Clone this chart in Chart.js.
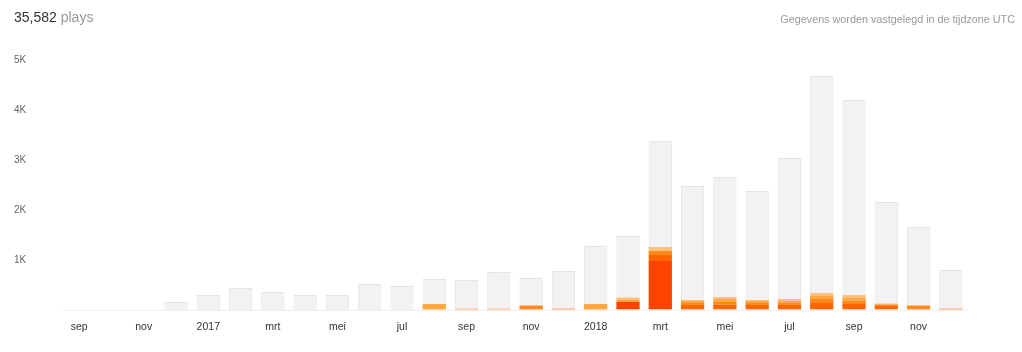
<!DOCTYPE html>
<html>
<head>
<meta charset="utf-8">
<script src="https://cdn.jsdelivr.net/npm/chart.js@4/dist/chart.umd.min.js"></script>
<style>
  html, body { margin: 0; padding: 0; background: #fff; }
  body { width: 1022px; height: 352px; position: relative; overflow: hidden; font-family: "Liberation Sans", Arial, sans-serif; }
  #chart { position: absolute; left: 0; top: 0; }
  .total { position: absolute; left: 14px; top: 9px; font-size: 14px; color: #333; }
  .total span { color: #999; }
  .tz { position: absolute; right: 7px; top: 13px; font-size: 10.8px; color: #999; }
</style>
</head>
<body>
<canvas id="chart" width="1022" height="352"></canvas>
<div class="total">35,582 <span>plays</span></div>
<div class="tz">Gegevens worden vastgelegd in de tijdzone UTC</div>
<script>
// maanden sep 2016 .. dec 2018
const months = [
  '2016-09', '2016-10', '2016-11', '2016-12',
  '2017-01', '2017-02', '2017-03', '2017-04', '2017-05', '2017-06',
  '2017-07', '2017-08', '2017-09', '2017-10', '2017-11', '2017-12',
  '2018-01', '2018-02', '2018-03', '2018-04', '2018-05', '2018-06',
  '2018-07', '2018-08', '2018-09', '2018-10', '2018-11', '2018-12'
]
const monthLabels = [
  'sep', '', 'nov', '',
  '2017', '', 'mrt', '', 'mei', '',
  'jul', '', 'sep', '', 'nov', '',
  '2018', '', 'mrt', '', 'mei', '',
  'jul', '', 'sep', '', 'nov', ''
]
const yTickLabels = ['', '1K', '2K', '3K', '4K', '5K']

// totaal aantal plays per maand (grijze balk)
const totalPlays = [0, 0, 0, 160, 300, 440, 360, 300, 300, 520, 480, 620, 600, 760,
  640, 780, 1280, 1480, 3380, 2480, 2660, 2380, 3040, 4680, 4200, 2160, 1660, 800]

// gekleurde lagen, van onder naar boven
const palePlays = [0, 0, 0, 0, 0, 0, 0, 0, 0, 0, 0, 20, 30, 30,
  20, 40, 20, 20, 20, 20, 20, 20, 20, 20, 20, 20, 20, 40]
const redPlays = [0, 0, 0, 0, 0, 0, 0, 0, 0, 0, 0, 0, 0, 0,
  0, 0, 0, 140, 960, 0, 0, 0, 0, 0, 0, 0, 0, 0]
const darkPlays = [0, 0, 0, 0, 0, 0, 0, 0, 0, 0, 0, 0, 0, 0,
  0, 0, 0, 0, 120, 80, 90, 80, 80, 120, 100, 60, 0, 0]
const midPlays = [0, 0, 0, 0, 0, 0, 0, 0, 0, 0, 0, 0, 0, 0,
  70, 0, 0, 0, 80, 40, 60, 40, 50, 80, 70, 30, 60, 0]
const lightPlays = [0, 0, 0, 0, 0, 0, 0, 0, 0, 0, 0, 100, 0, 0,
  0, 0, 100, 50, 0, 40, 50, 40, 40, 60, 60, 0, 0, 0]
const lighterPlays = [0, 0, 0, 0, 0, 0, 0, 0, 0, 0, 0, 0, 0, 0,
  0, 0, 0, 40, 80, 20, 40, 20, 30, 60, 50, 20, 20, 0]

const layers = [
  { data: palePlays, color: '#fccbb2' },
  { data: redPlays, color: '#ff4400' },
  { data: darkPlays, color: '#ff6600' },
  { data: midPlays, color: '#ff8a1c' },
  { data: lightPlays, color: '#ffa640' },
  { data: lighterPlays, color: '#ffc07a' }
]

const barOpts = { categoryPercentage: 1, barPercentage: 0.72, grouped: false }

const datasets = layers.map(l => ({
  ...barOpts,
  data: l.data,
  backgroundColor: l.color,
  borderWidth: 0,
  stack: 'tracks'
}))

// grijze totaalbalk achter de gekleurde lagen
datasets.push({
  ...barOpts,
  data: totalPlays,
  backgroundColor: '#f2f2f2',
  borderColor: '#e4e4e4',
  borderWidth: 1,
  borderSkipped: 'bottom',
  stack: 'total'
})

new Chart(document.getElementById('chart').getContext('2d'), {
  type: 'bar',
  data: { labels: months, datasets },
  options: {
    responsive: false,
    animation: false,
    layout: { padding: { left: 14, right: 55, top: 60, bottom: 0 } },
    plugins: { legend: { display: false }, tooltip: { enabled: false } },
    scales: {
      x: {
        stacked: true,
        grid: { display: false, drawTicks: false },
        border: { display: true, color: '#f0f0f0', width: 1 },
        ticks: {
          autoSkip: false,
          maxRotation: 0,
          padding: 11,
          color: '#333',
          font: { family: 'Liberation Sans', size: 10.5 },
          callback: (v, i) => monthLabels[i]
        },
        afterFit: s => { s.height = 42 }
      },
      y: {
        stacked: true,
        min: 0,
        max: 5000,
        grid: { display: false, drawTicks: false },
        border: { display: false },
        ticks: {
          stepSize: 1000,
          crossAlign: 'far',
          padding: 0,
          color: '#666',
          font: { family: 'Liberation Sans', size: 10 },
          callback: (v, i) => yTickLabels[i]
        },
        afterFit: s => { s.width = 49 }
      }
    }
  }
})
</script>
</body>
</html>
